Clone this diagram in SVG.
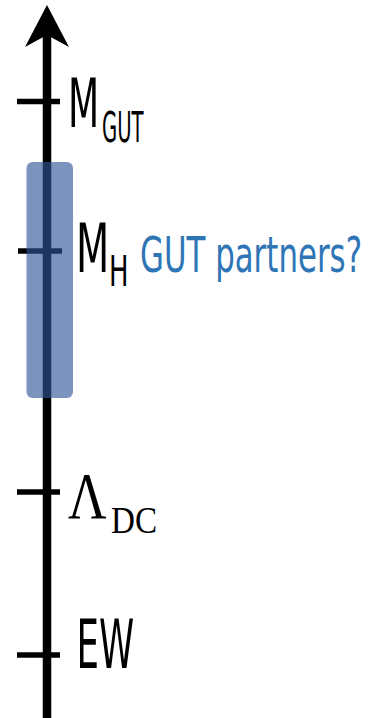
<svg xmlns="http://www.w3.org/2000/svg" width="379" height="718" viewBox="0 0 379 718">
  <style>
    .axis { stroke: #000; stroke-width: 8.5; fill: none; }
    .tick { stroke: #000; stroke-width: 5.5; }
    .lbl { font-family: "DejaVu Sans Condensed", "DejaVu Sans", sans-serif; fill: #000; }
    .ser { font-family: "Liberation Serif", "DejaVu Serif", serif; fill: #000; }
    .blue { font-family: "DejaVu Sans Condensed", "DejaVu Sans", sans-serif; fill: #2E75B6; }
  </style>
  <g id="connectors">
    <line class="axis" x1="47" y1="718" x2="47" y2="34"/>
    <polygon points="47,5 69,47 47,35 25,47" fill="#000"/>
  </g>
  <g id="tick-mgut">
    <line class="tick" x1="17" y1="101.5" x2="60" y2="101.5"/>
    <text class="lbl" font-size="68" transform="translate(68,127) scale(0.59,1)">M</text>
    <text class="lbl" font-size="42" transform="translate(102,142) scale(0.52,1)">GUT</text>
  </g>
  <g id="tick-mh">
    <line class="tick" x1="18" y1="251" x2="62" y2="251"/>
    <text class="lbl" font-size="68" transform="translate(76,272) scale(0.63,1)">M</text>
    <text class="lbl" font-size="43" transform="translate(109,286) scale(0.67,1)">H</text>
  </g>
  <g id="tick-ldc">
    <line class="tick" x1="17" y1="492" x2="60" y2="492"/>
    <text class="ser" font-size="65" transform="translate(68,518) scale(0.82,1)">Λ</text>
    <text class="ser" font-size="39" transform="translate(111,533) scale(0.85,1)">DC</text>
  </g>
  <g id="tick-ew">
    <line class="tick" x1="17" y1="655" x2="60" y2="655"/>
    <text class="lbl" font-size="67" transform="translate(76.5,668) scale(0.59,1)">EW</text>
  </g>
  <g id="gut-partners">
    <rect x="26.5" y="162" width="46.5" height="236" rx="6" fill="#2F5597" fill-opacity="0.63"/>
    <text class="blue" font-size="49" transform="translate(140,272) scale(0.70,1)">GUT partners?</text>
  </g>
</svg>
